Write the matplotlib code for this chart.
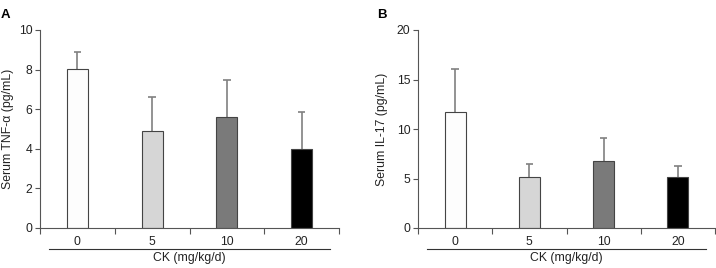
import matplotlib
matplotlib.use('Agg')
import matplotlib.pyplot as plt

plt.rcParams['font.family'] = ['Liberation Sans', 'DejaVu Sans']

doses = ['0', '5', '10', '20']
tnf_mean = [8.05, 4.9, 5.6, 4.0]
tnf_err = [0.85, 1.7, 1.9, 1.85]
il17_mean = [11.7, 5.2, 6.8, 5.2]
il17_err = [4.4, 1.25, 2.3, 1.05]
bar_colors = ['#fdfdfd', '#d6d6d6', '#7a7a7a', '#000000']

fig = plt.figure(figsize=(7.16, 2.68), dpi=100)
axA = fig.add_axes([40 / 716, 40 / 268, 299 / 716, 198 / 268])
axB = fig.add_axes([418 / 716, 40 / 268, 297 / 716, 198 / 268])

FS = 8.8


def draw_panel(ax, means, errs, ymax, ystep, ylabel, letter, letter_x, lpad):
    x = list(range(len(doses)))
    tops = [m + e for m, e in zip(means, errs)]
    # one-sided (upper) error bars
    ax.vlines(x, means, tops, color='#808080', linewidth=1.2, zorder=1)
    ax.hlines(tops, [i - 0.05 for i in x], [i + 0.05 for i in x],
              color='#808080', linewidth=1.2, zorder=1)
    ax.bar(x, means, width=0.28, color=bar_colors, edgecolor='#444444',
           linewidth=0.8, zorder=2)
    ax.set_xlim(-0.5, len(doses) - 0.5)
    ax.set_ylim(0, ymax)
    ax.set_yticks(range(0, ymax + 1, ystep))
    ax.set_xticks(x)
    ax.set_xticklabels(doses)
    ax.set_xticks([i - 0.5 for i in range(len(doses) + 1)], minor=True)
    ax.tick_params(axis='x', which='major', length=0, pad=6, labelsize=FS,
                   colors='#222222')
    ax.tick_params(axis='x', which='minor', length=4, width=0.8,
                   color='#555555')
    ax.tick_params(axis='y', length=3.5, width=0.8, labelsize=FS, pad=2,
                   color='#555555', labelcolor='#222222')
    for side in ['top', 'right']:
        ax.spines[side].set_visible(False)
    for side in ['left', 'bottom']:
        ax.spines[side].set_color('#555555')
        ax.spines[side].set_linewidth(0.8)
    ax.set_ylabel(ylabel, fontsize=FS, color='#222222', labelpad=lpad)
    # grouping line under the dose labels
    ax.plot([0.03, 0.97], [-0.106, -0.106], transform=ax.transAxes,
            color='#333333', linewidth=0.8, clip_on=False)
    ax.text(0.5, -0.152, 'CK (mg/kg/d)', transform=ax.transAxes,
            ha='center', va='center', fontsize=FS, color='#222222')
    fig.text(letter_x, 1 - 15 / 268, letter, fontsize=9.5, fontweight='bold',
             ha='left', va='center')


draw_panel(axA, tnf_mean, tnf_err, 10, 2, 'Serum TNF-\u03b1 (pg/mL)', 'A',
           1 / 716, 3.5)
draw_panel(axB, il17_mean, il17_err, 20, 5, 'Serum IL-17 (pg/mL)', 'B',
           377 / 716, 6)

fig.savefig('out.png', dpi=100)
